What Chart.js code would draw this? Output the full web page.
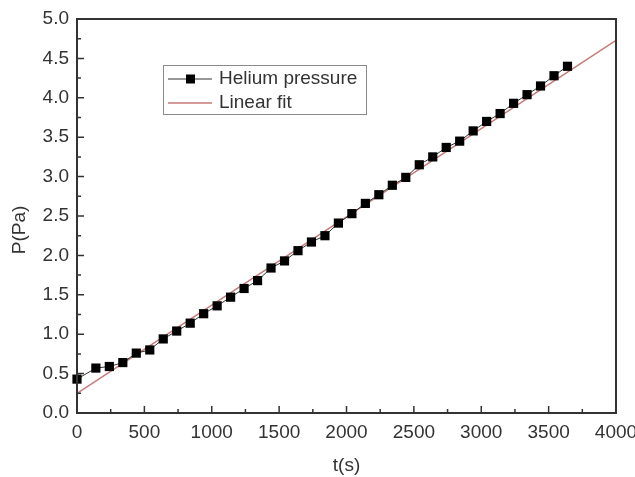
<!DOCTYPE html>
<html>
<head>
<meta charset="utf-8">
<script src="https://cdn.jsdelivr.net/npm/chart.js@4"></script>
<style>
  body { margin: 0; background: #fff; }
  canvas { display: block; }
</style>
</head>
<body>
<canvas id="chart" width="635" height="477"></canvas>
<script>
const timeSec = [0, 140, 240, 340, 440, 540, 640, 740, 840, 940, 1040, 1140, 1240, 1340,
  1440, 1540, 1640, 1740, 1840, 1940, 2040, 2140, 2240, 2340, 2440, 2540, 2640, 2740,
  2840, 2940, 3040, 3140, 3240, 3340, 3440, 3540, 3640];
const pressurePa = [0.43, 0.57, 0.59, 0.64, 0.76, 0.80, 0.94, 1.04, 1.14, 1.26, 1.36, 1.47,
  1.58, 1.68, 1.84, 1.93, 2.06, 2.17, 2.25, 2.41, 2.53, 2.66, 2.77, 2.89, 2.99, 3.15,
  3.25, 3.37, 3.45, 3.58, 3.70, 3.80, 3.93, 4.04, 4.15, 4.28, 4.40];

// linear fit end points
const fitT = [0, 4000];
const fitP = [0.25, 4.73];

const seriesLabels = ['Helium pressure', 'Linear fit'];
const xTickStep = 500;
const yTickStep = 0.5;

const FONT = 'Liberation Sans, Arial, sans-serif';
const TEXT = '#333333';
const FRAME = '#333333';
const FIT_COLOR = '#c77a7a';

const toPoints = (xs, ys) => xs.map((x, i) => ({ x: x, y: ys[i] }));

// frame, inward ticks, legend box and axis titles
const decorations = {
  id: 'decorations',
  afterDatasetsDraw(chart) {
    const { ctx, chartArea: a, scales } = chart;
    ctx.save();
    ctx.strokeStyle = FRAME;
    ctx.lineWidth = 2;
    ctx.strokeRect(a.left, a.top, a.right - a.left, a.bottom - a.top);

    ctx.lineWidth = 1.5;
    ctx.beginPath();
    for (let v = 0; v <= 4000; v += xTickStep / 2) {
      const px = scales.x.getPixelForValue(v);
      const len = (v % xTickStep === 0) ? 7 : 4;
      ctx.moveTo(px, a.bottom);
      ctx.lineTo(px, a.bottom - len);
    }
    for (let i = 0; i <= 20; i++) {
      const v = i * yTickStep / 2;
      const py = scales.y.getPixelForValue(v);
      const len = (i % 2 === 0) ? 7 : 4;
      ctx.moveTo(a.left, py);
      ctx.lineTo(a.left + len, py);
    }
    ctx.stroke();

    // legend
    const lx = 163, ly = 65, lw = 203, lh = 49;
    ctx.fillStyle = '#fff';
    ctx.fillRect(lx, ly, lw, lh);
    ctx.strokeStyle = '#8a8a8a';
    ctx.lineWidth = 1;
    ctx.strokeRect(lx + 0.5, ly + 0.5, lw, lh);

    const rows = [79, 103];
    ctx.lineWidth = 1;
    ctx.strokeStyle = FRAME;
    ctx.beginPath();
    ctx.moveTo(168, rows[0]); ctx.lineTo(212, rows[0]);
    ctx.stroke();
    ctx.fillStyle = '#000';
    ctx.fillRect(186, rows[0] - 4.5, 9, 9);
    ctx.strokeStyle = FIT_COLOR;
    ctx.lineWidth = 1.5;
    ctx.beginPath();
    ctx.moveTo(168, rows[1]); ctx.lineTo(212, rows[1]);
    ctx.stroke();

    ctx.fillStyle = TEXT;
    ctx.font = '19px ' + FONT;
    ctx.textAlign = 'left';
    ctx.textBaseline = 'middle';
    ctx.fillText(seriesLabels[0], 219, rows[0]);
    ctx.fillText(seriesLabels[1], 219, rows[1]);

    // axis titles
    ctx.textAlign = 'center';
    ctx.fillText('t(s)', (a.left + a.right) / 2, 466);
    ctx.translate(20, 230);
    ctx.rotate(-Math.PI / 2);
    ctx.fillText('P(Pa)', 0, 0);
    ctx.restore();
  }
};

new Chart(document.getElementById('chart'), {
  type: 'scatter',
  data: {
    datasets: [
      {
        label: seriesLabels[1],
        data: toPoints(fitT, fitP),
        showLine: true,
        borderColor: FIT_COLOR,
        borderWidth: 1.5,
        pointRadius: 0,
        order: 2
      },
      {
        label: seriesLabels[0],
        data: toPoints(timeSec, pressurePa),
        showLine: true,
        clip: false,
        borderColor: FRAME,
        borderWidth: 1,
        pointStyle: 'rect',
        pointRadius: 6.5,
        pointBackgroundColor: '#000',
        pointBorderColor: '#000',
        pointBorderWidth: 0,
        order: 1
      }
    ]
  },
  options: {
    responsive: false,
    animation: false,
    devicePixelRatio: 1,
    layout: { padding: { top: 19, right: 19, left: 0, bottom: 0 } },
    plugins: {
      legend: { display: false },
      tooltip: { enabled: false }
    },
    scales: {
      x: {
        type: 'linear',
        min: 0,
        max: 4000,
        grid: { display: false, drawTicks: false },
        border: { display: false },
        ticks: {
          stepSize: xTickStep,
          padding: 8,
          color: TEXT,
          font: { family: FONT, size: 19 },
          maxRotation: 0,
          callback: v => String(v)
        },
        afterFit(scale) {
          scale.height = 64;
          scale.paddingLeft = 0;
          scale.paddingRight = 0;
        }
      },
      y: {
        min: 0,
        max: 5,
        grid: { display: false, drawTicks: false },
        border: { display: false },
        ticks: {
          stepSize: yTickStep,
          padding: 8,
          color: TEXT,
          font: { family: FONT, size: 19 },
          callback: v => v.toFixed(1)
        },
        afterFit(scale) {
          scale.width = 77;
          scale.paddingTop = 0;
          scale.paddingBottom = 0;
        }
      }
    }
  },
  plugins: [decorations]
});
</script>
</body>
</html>
